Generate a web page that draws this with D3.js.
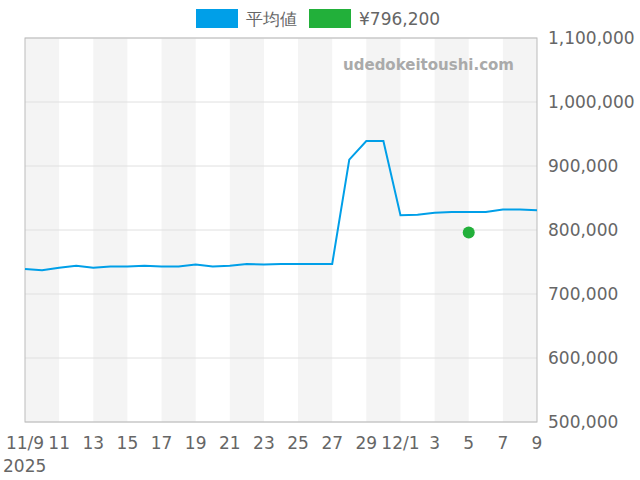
<!DOCTYPE html>
<html><head><meta charset="utf-8">
<script src="https://cdn.jsdelivr.net/npm/d3@7"></script>
<style>body{margin:0;background:#fff;font-family:"DejaVu Sans",sans-serif}</style>
</head><body><svg id="c" width="640" height="480"></svg>
<script>
const startDate = "2025-11-09";
const avgValues = [739000,737000,741000,744000,741000,743000,743000,744000,743000,743000,746000,743000,744000,747000,746000,747000,747000,747000,747000,910000,939000,939000,823000,824000,827000,828000,828000,828000,832000,832000,831000];
const pointDate = "2025-12-05";
const pointValue = 796200;
const yTicks = [500000,600000,700000,800000,900000,1000000,1100000];
const seriesNames = ["平均値","¥796,200"];
const colors = ["#009fe8","#22b03a"];

const svg = d3.select("#c");
const L=25,R=537,T=38,B=422;
const parse = d3.timeParse("%Y-%m-%d");
const d0 = parse(startDate);
const dates = avgValues.map((v,i)=>d3.timeDay.offset(d0,i));
const x = d3.scaleTime().domain([d0, dates[dates.length-1]]).range([L,R]);
const y = d3.scaleLinear().domain([500000,1100000]).range([B,T]);

for(let i=0;i<30;i+=4){
  svg.append("rect").attr("x",x(dates[i])).attr("y",T)
    .attr("width",x(dates[i+2])-x(dates[i])).attr("height",B-T).attr("fill","#f4f4f4");
}
yTicks.forEach(t=>svg.append("line").attr("x1",L).attr("x2",R).attr("y1",y(t)).attr("y2",y(t)).attr("stroke","#e0e0e0"));
svg.append("rect").attr("x",L).attr("y",T).attr("width",R-L).attr("height",B-T).attr("fill","none").attr("stroke","#bbb");

const fmt = d3.format(",");
yTicks.forEach(t=>svg.append("text").attr("x",548).attr("y",y(t)+6).attr("font-size",17).attr("fill","#666").text(fmt(t)));
for(let i=0;i<dates.length;i+=2){
  const d=dates[i];
  const lab = i===0? "11/9" : (d.getDate()===1? (d.getMonth()+1)+"/1" : String(d.getDate()));
  svg.append("text").attr("x",x(d)).attr("y",449).attr("text-anchor","middle").attr("font-size",17).attr("fill","#666").text(lab);
}
svg.append("text").attr("x",3).attr("y",472).attr("font-size",17).attr("fill","#666").text("2025");

svg.append("path").datum(avgValues).attr("fill","none").attr("stroke",colors[0]).attr("stroke-width",2)
  .attr("d",d3.line().x((v,i)=>x(dates[i])).y(v=>y(v)));
svg.append("circle").attr("cx",x(parse(pointDate))).attr("cy",y(pointValue)).attr("r",6).attr("fill",colors[1]);

svg.append("text").attr("x",514).attr("y",70).attr("text-anchor","end").attr("font-size",15).attr("font-weight","bold").attr("fill","#aaa").text("udedokeitoushi.com");

const lg=[[196,seriesNames[0],colors[0]],[309,seriesNames[1],colors[1]]];
lg.forEach(([lx,t,c])=>{
  svg.append("rect").attr("x",lx).attr("y",9).attr("width",42).attr("height",19).attr("fill",c);
  svg.append("text").attr("x",lx+50).attr("y",25).attr("font-size",17).attr("fill","#666").text(t);
});
</script></body></html>
